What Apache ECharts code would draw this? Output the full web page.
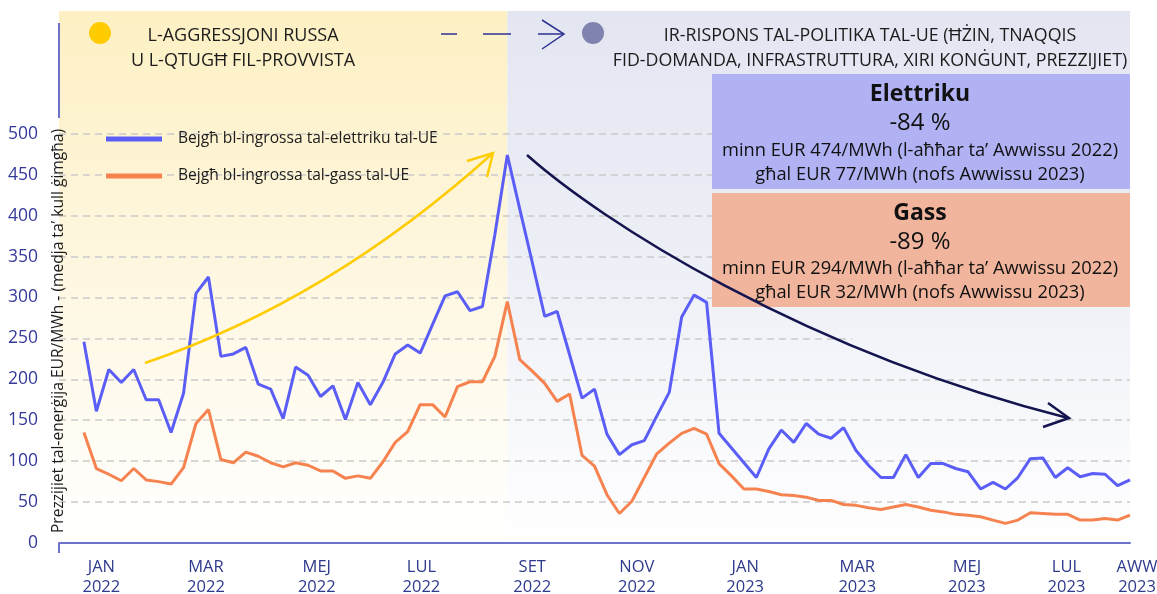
<!DOCTYPE html>
<html>
<head>
<meta charset="utf-8">
<script src="https://cdn.jsdelivr.net/npm/echarts@6/dist/echarts.min.js"></script>
<style>
html, body { margin: 0; padding: 0; background: #fff; }
#main { width: 1157px; height: 594px; }
</style>
</head>
<body>
<div id="main"></div>
<script>
// medja ta' kull gimgha, EUR/MWh - mill-ewwel gimgha ta' Jan 2022 sa nofs Awwissu 2023
var elecName = 'Bejgħ bl-ingrossa tal-elettriku tal-UE';
var gasName = 'Bejgħ bl-ingrossa tal-gass tal-UE';

var elec = [246, 161, 212, 196, 212, 175, 175, 135, 183, 305,
            325, 228, 231, 239, 194, 188, 152, 215, 205, 179,
            192, 151, 196, 169, 196, 231, 242, 232, 267, 302,
            307, 284, 289, 377, 474, 408, 343, 277, 283, 230,
            177, 188, 133, 108, 120, 125, 155, 184, 276, 303,
            294, 134, 116, 98, 80, 115, 138, 123, 146, 133,
            128, 141, 113, 95, 80, 80, 108, 80, 97, 97,
            91, 87, 66, 74, 66, 80, 103, 104, 80, 92,
            81, 85, 84, 70, 77];
var gas = [135, 91, 84, 76, 91, 77, 75, 72, 92, 146,
           163, 102, 98, 111, 106, 98, 93, 98, 95, 88,
           88, 79, 82, 79, 99, 123, 136, 169, 169, 154,
           191, 197, 197, 228, 295, 224, 210, 195, 173, 182,
           107, 94, 59, 36, 51, 80, 109, 122, 134, 140,
           133, 97, 82, 66, 66, 63, 59, 58, 56, 52,
           52, 47, 46, 43, 41, 44, 47, 44, 40, 38,
           35, 34, 32, 28, 24, 28, 37, 36, 35, 35,
           28, 28, 30, 28, 34];

// pozizzjoni tat-tikketti tax-xhur (f'gimghat) u t-test taghhom
var tickPos = [1.4, 9.8, 18.7, 27.1, 36, 44.4, 53.1, 62.1, 70.9, 78.9, 84];
var tickText = ['JAN\n2022', 'MAR\n2022', 'MEJ\n2022', 'LUL\n2022', 'SET\n2022', 'NOV\n2022',
                'JAN\n2023', 'MAR\n2023', 'MEJ\n2023', 'LUL\n2023', 'AWW\n2023'];
var yTicks = [0, 50, 100, 150, 200, 250, 300, 350, 400, 450, 500];
var splitWeek = 34; // l-oghla prezz, tmiem Awwissu 2022

var chart = echarts.init(document.getElementById('main'));

function pairs(vals) {
    var out = [];
    for (var i = 0; i < vals.length; i++) out.push([i, vals[i]]);
    return out;
}

var yellowStops = [{offset: 0, color: '#fdf0c3'}, {offset: 0.5, color: '#fef7e1'}, {offset: 1, color: '#ffffff'}];
var blueStops = [{offset: 0, color: '#e3e5f1'}, {offset: 0.5, color: '#eef0f7'}, {offset: 1, color: '#ffffff'}];
var font = 'Open Sans';
var ink = '#1c1c1c';
var navy = '#2e3192';

function txt(x, y, s, size, bold) {
    return {type: 'text', z: 11, x: x, y: y,
            style: {text: s, fontSize: size, fontWeight: bold ? 'bold' : 'normal', fontFamily: font, fill: '#111',
                    textAlign: 'center', textVerticalAlign: 'middle', align: 'center', verticalAlign: 'middle'}};
}

option = {
    animation: false,
    textStyle: {fontFamily: font},
    grid: {left: 59, right: 27, top: 11, bottom: 51, containLabel: false, outerBoundsMode: 'none'},
    legend: {
        orient: 'vertical',
        left: 101,
        top: 126,
        icon: 'rect',
        itemWidth: 56,
        itemHeight: 5,
        itemGap: 21,
        textStyle: {fontSize: 15.6, color: ink, padding: [0, 0, 0, 11]},
        data: [elecName, gasName]
    },
    xAxis: {
        type: 'value',
        min: -2,
        max: 84,
        axisLine: {lineStyle: {color: '#6e71c9', width: 2}},
        axisTick: {show: true, customValues: [-2], length: 10, lineStyle: {color: '#6e71c9', width: 2}},
        splitLine: {show: false},
        axisLabel: {
            customValues: tickPos,
            color: '#2e3a8c',
            fontSize: 16.5,
            lineHeight: 20,
            margin: 14,
            formatter: function (v) {
                var i = tickPos.indexOf(v);
                if (i < 0) return '';
                if (i == tickPos.length - 1) {
                    var parts = tickText[i].split('\n');
                    return '{e|' + parts[0] + '}\n{e|' + parts[1] + '}';
                }
                return tickText[i];
            },
            rich: {
                e: {color: '#2e3a8c', fontSize: 16.5, lineHeight: 20, fontFamily: font, padding: [0, 0, 0, 14]}
            }
        }
    },
    yAxis: {
        type: 'value',
        min: 0,
        max: 650,
        interval: 50,
        axisLine: {show: false},
        axisTick: {show: false, customValues: yTicks},
        axisLabel: {customValues: yTicks, color: '#353a99', fontSize: 17.5, margin: 21, padding: [6, 0, 0, 0]},
        splitLine: {lineStyle: {color: '#cacaca', type: [7, 5], width: 1.5}}
    },
    series: [
        {
            name: elecName,
            type: 'line',
            data: pairs(elec),
            symbol: 'none',
            z: 3,
            lineStyle: {color: '#5b5ef6', width: 3},
            itemStyle: {color: '#5b5ef6'},
            markArea: {
                silent: true,
                z: -1,
                data: [
                    [{xAxis: -2, itemStyle: {color: {type: 'linear', x: 0, y: 0, x2: 0, y2: 1, colorStops: yellowStops}}},
                     {xAxis: splitWeek}],
                    [{xAxis: splitWeek, itemStyle: {color: {type: 'linear', x: 0, y: 0, x2: 0, y2: 1, colorStops: blueStops}}},
                     {xAxis: 84}]
                ]
            }
        },
        {
            name: gasName,
            type: 'line',
            data: pairs(gas),
            symbol: 'none',
            z: 2,
            lineStyle: {color: '#f6834f', width: 3},
            itemStyle: {color: '#f6834f'}
        }
    ],
    graphic: [
        // ghata fuq il-linji tal-grilja wara l-kaxxi
        {type: 'rect', z: 1, silent: true, shape: {x: 852, y: 127, width: 278, height: 219},
         style: {fill: new echarts.graphic.LinearGradient(0, 11, 0, 543, blueStops, true)}},
        // titlu tal-ass y
        {type: 'text', z: 10, x: 59, y: 331, rotation: Math.PI / 2,
         style: {text: 'Prezzijiet tal-enerġija EUR/MWh - (medja ta\u2019 kull ġimgħa)', fontSize: 15.6, fontFamily: font,
                 fill: ink, textAlign: 'center', textVerticalAlign: 'middle', align: 'center', verticalAlign: 'middle'}},
        {type: 'line', z: 10, shape: {x1: 59, y1: 23, x2: 59, y2: 118}, style: {stroke: '#6e71c9', lineWidth: 2}},
        // intestaturi
        {type: 'circle', z: 10, shape: {cx: 100, cy: 33, r: 11}, style: {fill: '#ffcc00'}},
        {type: 'text', z: 10, x: 243, y: 48,
         style: {text: 'L-AGGRESSJONI RUSSA\nU L-QTUGĦ FIL-PROVVISTA', fontSize: 18, fontFamily: font, fill: ink,
                 lineHeight: 25, textAlign: 'center', textVerticalAlign: 'middle', align: 'center', verticalAlign: 'middle'}},
        {type: 'line', z: 10, shape: {x1: 441, y1: 34, x2: 457, y2: 34}, style: {stroke: navy, lineWidth: 1.5}},
        {type: 'line', z: 10, shape: {x1: 483, y1: 34, x2: 511, y2: 34}, style: {stroke: navy, lineWidth: 1.5}},
        {type: 'line', z: 10, shape: {x1: 538, y1: 34, x2: 563, y2: 34}, style: {stroke: navy, lineWidth: 1.5}},
        {type: 'polyline', z: 10, shape: {points: [[542, 20], [564, 34], [542, 49]]}, style: {stroke: navy, lineWidth: 1.5, fill: null}},
        {type: 'circle', z: 10, shape: {cx: 593, cy: 33, r: 11}, style: {fill: '#8083b0'}},
        {type: 'text', z: 10, x: 870, y: 48,
         style: {text: 'IR-RISPONS TAL-POLITIKA TAL-UE (ĦŻIN, TNAQQIS\nFID-DOMANDA, INFRASTRUTTURA, XIRI KONĠUNT, PREZZIJIET)',
                 fontSize: 17.8, fontFamily: font, fill: ink, lineHeight: 25,
                 textAlign: 'center', textVerticalAlign: 'middle', align: 'center', verticalAlign: 'middle'}},
        // kaxxi
        {type: 'rect', z: 10, shape: {x: 712, y: 74, width: 418, height: 115}, style: {fill: '#b0b2f4'}},
        {type: 'rect', z: 10, shape: {x: 712, y: 193, width: 418, height: 114}, style: {fill: '#f0b59c'}},
        txt(920, 94, 'Elettriku', 23, true),
        txt(920, 123.5, '-84 %', 24, false),
        txt(920, 151, 'minn EUR 474/MWh (l-aħħar ta\u2019 Awwissu 2022)', 18.3, false),
        txt(920, 175, 'għal EUR 77/MWh (nofs Awwissu 2023)', 18.3, false),
        txt(920, 213.5, 'Gass', 23, true),
        txt(920, 242.5, '-89 %', 24, false),
        txt(920, 268.5, 'minn EUR 294/MWh (l-aħħar ta\u2019 Awwissu 2022)', 18.3, false),
        txt(920, 292.5, 'għal EUR 32/MWh (nofs Awwissu 2023)', 18.3, false),
        // vleggi
        {type: 'bezierCurve', z: 12, shape: {x1: 145, y1: 363, cpx1: 330, cpy1: 300, x2: 493, y2: 153},
         style: {stroke: '#ffcc00', lineWidth: 2.5, fill: null}},
        {type: 'polyline', z: 12, shape: {points: [[467, 161], [493, 153], [487, 177]]},
         style: {stroke: '#ffcc00', lineWidth: 2.5, fill: null}},
        {type: 'bezierCurve', z: 12, shape: {x1: 527, y1: 155, cpx1: 600, cpy1: 220, cpx2: 800, cpy2: 350, x2: 1068, y2: 418},
         style: {stroke: '#14144f', lineWidth: 2.5, fill: null}},
        {type: 'polyline', z: 12, shape: {points: [[1048, 403], [1069, 418], [1043, 427]]},
         style: {stroke: '#14144f', lineWidth: 2.5, fill: null}}
    ]
};

chart.setOption(option);
</script>
</body>
</html>
